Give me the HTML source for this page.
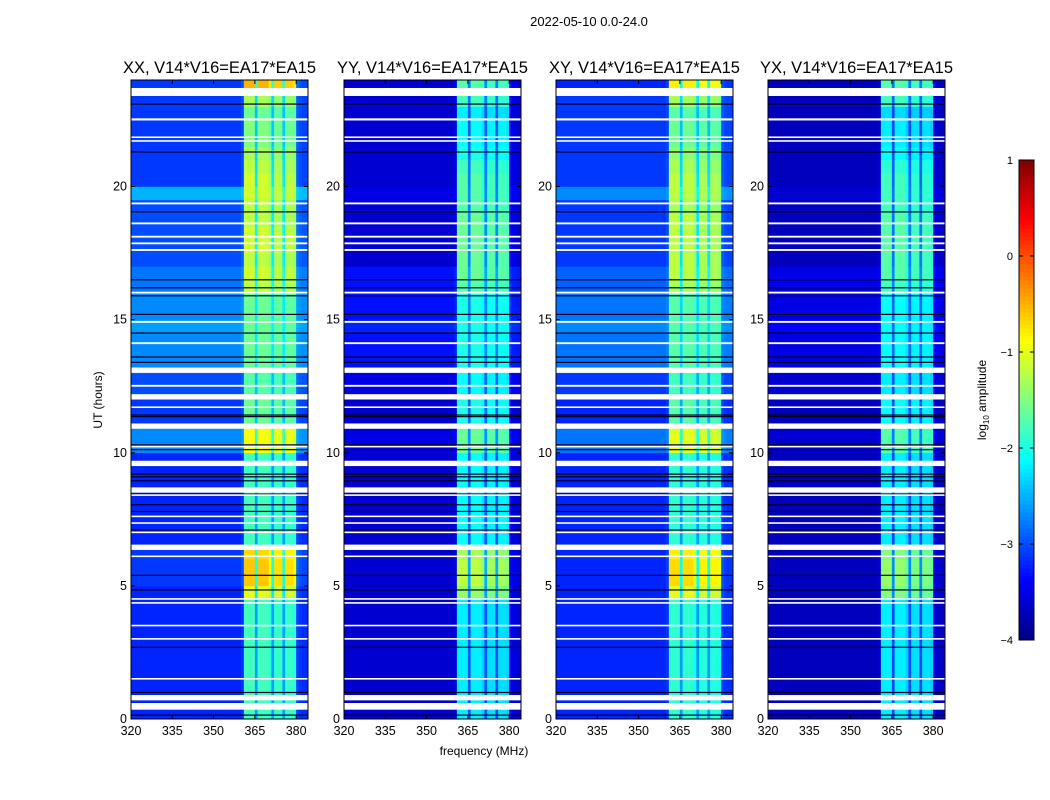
<!DOCTYPE html>
<html><head><meta charset="utf-8">
<style>
body{margin:0;background:#fff;}
svg{display:block;font-family:"Liberation Sans",sans-serif;}
</style></head>
<body>
<svg id="chart" width="1050" height="800" viewBox="0 0 1050 800">
<text x="589" y="26" font-size="13" text-anchor="middle">2022-05-10 0.0-24.0</text>
<g id="panels"></g>
<g id="cbar"></g>
<text x="484" y="755" font-size="12" text-anchor="middle">frequency (MHz)</text>
<text transform="translate(102,400) rotate(-90)" font-size="12" text-anchor="middle">UT (hours)</text>
<text transform="translate(986,400) rotate(-90)" font-size="12" text-anchor="middle">log<tspan font-size="8" dy="3">10</tspan><tspan dy="-3"> amplitude</tspan></text>
</svg>
<script>
// ---- data ----
const panelTitles = ["XX, V14*V16=EA17*EA15","YY, V14*V16=EA17*EA15","XY, V14*V16=EA17*EA15","YX, V14*V16=EA17*EA15"];
const freqTicks = [320,335,350,365,380];
const timeTicks = [0,5,10,15,20];
const cbarTicks = [1,0,-1,-2,-3,-4];
// channel band profile, channels 320..383 MHz (1 MHz each)
const bandProfile = [0,0,0,0,0,0,0,0,0,0, 0,0,0,0,0,0,0,0,0,0, 0,0,0,0,0,0,0,0,0,0, 0,0,0,0,0,0,0,0,0,0.03,
 0.05,1,1,1,1,0.45,1,1,1,1, 0.9,0.45,0.95,0.95,0.95,0.45,0.95,0.95,0.95,0.9, 0.1,0.05,0.03,0.03];
// half-hour bins 0..47 : background and band log amplitude
const bgXX  = [-3.2,-3.2,-3.2,-3.2,-3.2,-3.2,-3.2,-3.2,-3.2,-3.2,-3.1,-3.1,-3.1,-3.2,-3.2,-3.2,-3.2,-3.2,-3.2,-3.2,-2.7,-2.7,-3.1,-3.1,-3.0,-3.0,-2.7,-2.7,-2.7,-2.6,-2.7,-2.7,-2.8,-2.8,-3.0,-3.0,-3.0,-3.0,-3.0,-2.5,-3.1,-3.1,-3.1,-3.1,-3.1,-3.1,-3.1,-3.1];
const bandXX= [-1.8,-1.8,-1.8,-1.8,-1.8,-1.8,-1.8,-1.8,-1.8,-1.0,-0.6,-0.6,-0.7,-1.8,-1.8,-1.8,-1.8,-1.8,-1.8,-1.8,-0.9,-0.9,-1.6,-1.6,-1.7,-1.7,-1.6,-1.6,-1.6,-1.6,-1.6,-1.6,-1.2,-1.1,-1.2,-1.1,-1.1,-1.2,-1.2,-1.1,-1.1,-1.2,-1.3,-1.5,-1.5,-1.6,-1.3,-0.5];
const bgYY  = [-3.6,-3.6,-3.6,-3.6,-3.6,-3.6,-3.6,-3.6,-3.6,-3.6,-3.6,-3.6,-3.6,-3.6,-3.6,-3.6,-3.6,-3.6,-3.6,-3.6,-3.5,-3.5,-3.6,-3.6,-3.5,-3.5,-3.3,-3.3,-3.3,-3.2,-3.3,-3.3,-3.3,-3.3,-3.6,-3.6,-3.6,-3.6,-3.6,-3.5,-3.6,-3.6,-3.6,-3.6,-3.6,-3.6,-3.6,-3.6];
const bandYY= [-2.2,-2.2,-2.2,-2.2,-2.2,-2.2,-2.2,-2.2,-2.2,-1.4,-1.2,-1.2,-1.3,-2.1,-2.1,-2.1,-2.1,-2.1,-2.1,-2.1,-1.6,-1.6,-2.0,-2.0,-2.1,-2.1,-2.0,-2.0,-2.0,-2.0,-2.0,-2.0,-1.7,-1.6,-1.6,-1.6,-1.6,-1.6,-1.7,-1.7,-1.7,-1.8,-2.0,-2.1,-2.1,-2.2,-1.8,-1.7];
const bgXY  = [-3.2,-3.2,-3.2,-3.2,-3.2,-3.2,-3.2,-3.2,-3.2,-3.2,-3.2,-3.2,-3.2,-3.2,-3.2,-3.2,-3.2,-3.2,-3.2,-3.2,-2.8,-2.8,-3.2,-3.2,-3.1,-3.1,-2.8,-2.8,-2.8,-2.7,-2.8,-2.8,-2.9,-2.9,-3.1,-3.1,-3.1,-3.1,-3.1,-2.7,-3.1,-3.1,-3.1,-3.1,-3.1,-3.1,-3.1,-3.2];
const bandXY= [-1.9,-1.9,-1.9,-1.9,-1.9,-1.9,-1.9,-1.9,-1.9,-1.0,-0.7,-0.7,-0.8,-1.9,-1.9,-1.9,-1.9,-1.9,-1.9,-1.9,-1.0,-1.0,-1.7,-1.7,-1.8,-1.8,-1.7,-1.7,-1.7,-1.7,-1.7,-1.7,-1.3,-1.2,-1.2,-1.2,-1.2,-1.2,-1.3,-1.2,-1.2,-1.3,-1.4,-1.6,-1.6,-1.7,-1.3,-0.8];
const bgYX  = [-3.7,-3.7,-3.7,-3.7,-3.7,-3.7,-3.7,-3.7,-3.7,-3.7,-3.7,-3.7,-3.7,-3.7,-3.7,-3.7,-3.7,-3.7,-3.7,-3.7,-3.6,-3.6,-3.7,-3.7,-3.6,-3.6,-3.5,-3.5,-3.5,-3.4,-3.5,-3.5,-3.5,-3.5,-3.7,-3.7,-3.7,-3.7,-3.7,-3.6,-3.7,-3.7,-3.7,-3.7,-3.7,-3.7,-3.7,-3.7];
const bandYX= [-2.2,-2.2,-2.2,-2.2,-2.2,-2.2,-2.2,-2.2,-2.2,-1.5,-1.4,-1.4,-1.5,-2.2,-2.2,-2.2,-2.2,-2.2,-2.2,-2.2,-1.7,-1.7,-2.1,-2.1,-2.2,-2.2,-2.1,-2.1,-2.1,-2.1,-2.1,-2.1,-1.8,-1.7,-1.7,-1.7,-1.7,-1.7,-1.8,-1.8,-1.8,-1.9,-2.1,-2.2,-2.2,-2.3,-1.8,-1.7];
const bgSeries = [bgXX,bgYY,bgXY,bgYX];
const bandSeries = [bandXX,bandYY,bandXY,bandYX];
// flagged (white) time ranges, hours
const flagStart = [23.4,22.48,21.82,21.68,19.33,18.58,18.08,17.83,17.58,15.98,14.88,14.08,13.0,12.48,12.0,11.68,10.9,10.2,9.5,8.5,8.38,7.58,7.33,6.98,6.35,6.08,4.48,4.33,3.48,2.98,1.48,0.7,0.35];
const flagEnd   = [23.7,22.56,21.88,21.74,19.4,18.65,18.15,17.9,17.65,16.05,14.95,14.15,13.2,12.55,12.2,11.74,11.1,10.26,9.7,8.7,8.44,7.64,7.39,7.04,6.55,6.14,4.54,4.39,3.54,3.04,1.54,0.9,0.6];
// dark (near-zero) rows, hours
const darkRows = [23.1,21.3,19.05,16.5,16.2,15.9,15.2,14.5,13.6,13.4,11.42,11.36,10.3,10.12,9.2,9.1,8.95,8.45,8.05,7.8,7.1,5.4,4.85,2.7,1.0,0.15];
// ---- layout ----
const panelX = [131,344,556,768], panelW = 177, pTop = 80, pBot = 719;
const fx = (f,p)=> panelX[p] + (f-320)/(384.3-320)*panelW;
const ty = t => pBot - t/24*(pBot-pTop);
function jet(v){ // v in [-4,1]
  let x = Math.max(0,Math.min(1,(v+4)/5));
  const c = t=>Math.round(255*Math.max(0,Math.min(1,t)));
  const r = c(Math.min(4*x-1.5,-4*x+4.5)), g = c(Math.min(4*x-0.5,-4*x+3.5)), b = c(Math.min(4*x+0.5,-4*x+2.5));
  return `rgb(${r},${g},${b})`;
}
const NS="http://www.w3.org/2000/svg";
function mk(tag,attrs,parent){const e=document.createElementNS(NS,tag);for(const k in attrs)e.setAttribute(k,attrs[k]);parent.appendChild(e);return e;}
const G=document.getElementById('panels');
for(let p=0;p<4;p++){
  const g=mk('g',{},G);
  
  
  const bg=bgSeries[p], band=bandSeries[p];
  for(let i=0;i<bg.length;i++){
    const y0=ty((i+1)/2), y1=ty(i/2);
    const r=mk('rect',{x:fx(320,p),y:y0,width:fx(360,p)-fx(320,p)+0.3,height:y1-y0+0.3,fill:jet(bg[i])},g);
    
    
    for(let j=40;j<bandProfile.length;j++){
      const v=bg[i]+bandProfile[j]*(band[i]-bg[i]);
      const c=mk('rect',{x:fx(320+j,p),y:y0,width:fx(321+j,p)-fx(320+j,p)+0.3,height:y1-y0+0.3,fill:jet(v)},g);
      
      
    }
  }
  for(const t of darkRows){
    const d=mk('rect',{x:panelX[p],y:ty(t)-0.5,width:panelW,height:1.2,fill:'#000020'},g);
    
    
  }
  for(let k=0;k<flagStart.length;k++){
    const f=mk('rect',{x:panelX[p],y:ty(flagEnd[k]),width:panelW,height:Math.max(1.5,ty(flagStart[k])-ty(flagEnd[k])),fill:'#fff'},g);
    
    
  }
  const fr=mk('rect',{x:panelX[p],y:pTop,width:panelW,height:pBot-pTop,fill:'none',stroke:'#000','stroke-width':1},g);
  
  
  const tt=mk('text',{x:panelX[p]+panelW/2,y:73,'font-size':16.5,'text-anchor':'middle'},g);
  tt.textContent=panelTitles[p];
  
  
  for(const f of freqTicks){
    const x=fx(f,p);
    mk('line',{x1:x,x2:x,y1:pBot,y2:pBot-4,stroke:'#000'},g);
    mk('line',{x1:x,x2:x,y1:pTop,y2:pTop+4,stroke:'#000'},g);
    const l=mk('text',{x:x,y:pBot+16,'font-size':12.5,'text-anchor':'middle'},g);
    l.textContent=f;
    
    
  }
  for(const t of timeTicks){
    const y=ty(t);
    mk('line',{x1:panelX[p],x2:panelX[p]+4,y1:y,y2:y,stroke:'#000'},g);
    mk('line',{x1:panelX[p]+panelW,x2:panelX[p]+panelW-4,y1:y,y2:y,stroke:'#000'},g);
    const l=mk('text',{x:panelX[p]-4,y:y+4,'font-size':12.5,'text-anchor':'end'},g);
    l.textContent=t;
    
    
  }
}
// colorbar
const C=document.getElementById('cbar');
const cx=1019,cw=15,ct=160,cb=640;
const cy=v=>cb-(v+4)/5*(cb-ct);
for(let k=0;k<120;k++){
  const v=-4+(k+0.5)*5/120;
  const r=mk('rect',{x:cx,y:cy(-4+(k+1)*5/120),width:cw,height:(cb-ct)/120+0.5,fill:jet(v)},C);
  
  
}
const cf=mk('rect',{x:cx,y:ct,width:cw,height:cb-ct,fill:'none',stroke:'#000'},C);


for(const v of cbarTicks){
  const y=cy(v);
  mk('line',{x1:cx,x2:cx+4,y1:y,y2:y,stroke:'#000'},C);
  mk('line',{x1:cx+cw,x2:cx+cw-4,y1:y,y2:y,stroke:'#000'},C);
  const l=mk('text',{x:1013,y:y+4,'font-size':11,'text-anchor':'end'},C);
  l.textContent=v<0?'\u2212'+(-v):String(v);
  
  
}
</script>
</body></html>
